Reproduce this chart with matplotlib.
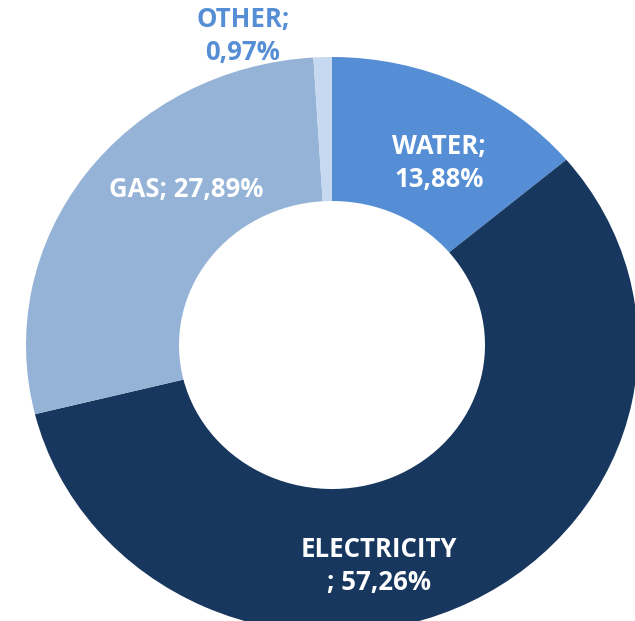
import matplotlib
matplotlib.use("Agg")
import matplotlib.pyplot as plt

# Share of utility costs by category
categories = ["WATER", "ELECTRICITY", "GAS", "OTHER"]
shares = [13.88, 57.26, 27.89, 0.97]
colors = ["#558ED5", "#17375E", "#95B3D7", "#C6D9F1"]

W, H = 635, 621
fig = plt.figure(figsize=(W / 100, H / 100), dpi=100)
ax = fig.add_axes([0, 0, 1, 1])

ax.pie(shares, colors=colors, startangle=90, counterclock=False,
       radius=1.0, wedgeprops=dict(width=0.5, linewidth=0))

# Ring centre and radii in pixels; the ring is slightly wider than tall
cx, cy = 332, 345
rx, ry = 306, 288
ax.set_aspect("auto")
ax.set_xlim(-cx / rx, (W - cx) / rx)
ax.set_ylim(-(H - cy) / ry, cy / ry)
ax.axis("off")


def fmt(v):
    return f"{v:.2f}".replace(".", ",") + "%"


font = dict(family="Open Sans", fontweight="bold", fontsize=18.5)

# Label placement in pixel coordinates (from the top-left corner)
label_px = {
    "WATER": (439, 163),
    "ELECTRICITY": (379, 566),
    "GAS": (186, 189),
    "OTHER": (243, 36),
}

for name, val in zip(categories, shares):
    px, py = label_px[name]
    x, y = px / W, 1 - py / H
    if name == "GAS":
        txt = f"{name}; {fmt(val)}"
    elif name == "ELECTRICITY":
        txt = f"{name}\n; {fmt(val)}"
    else:
        txt = f"{name};\n{fmt(val)}"
    color = "#558ED5" if name == "OTHER" else "white"
    ax.text(x, y, txt, transform=ax.transAxes, ha="center", va="center",
            color=color, linespacing=1.3, **font)

fig.savefig("out.png", dpi=100, facecolor="white")
